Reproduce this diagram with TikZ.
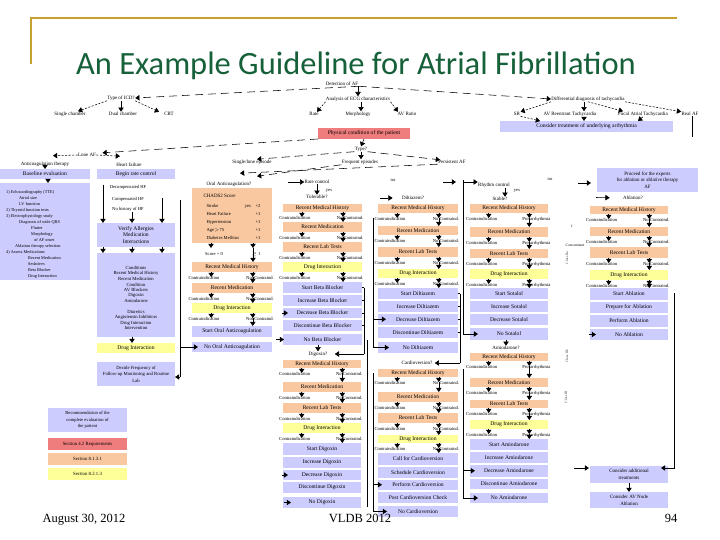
\documentclass[tikz,border=0pt]{standalone}
\usepackage{fontspec}
\setmainfont{Liberation Serif}
\newfontfamily\titlefont{Carlito}
\usetikzlibrary{arrows.meta,calc}
\definecolor{bl}{RGB}{204,204,255}
\definecolor{og}{RGB}{250,200,160}
\definecolor{yl}{RGB}{255,255,153}
\definecolor{rd}{RGB}{240,125,125}
\definecolor{tg}{RGB}{22,96,58}
\definecolor{gold}{RGB}{200,160,50}
\newcommand{\fsz}[1]{\fontsize{#1}{#1}\selectfont}
\tikzset{
  bx/.style={inner sep=0pt, outer sep=0pt, align=center, font=\fsz{5.6}},
  lab/.style={inner sep=0.3pt, font=\fsz{4.6}},
  tx/.style={inner sep=0.3pt, font=\fsz{5}},
  arr/.style={-{Triangle[length=4.2pt,width=5.4pt]}, line width=0.55pt},
  ldash/.style={dash pattern=on 8pt off 5pt, line width=0.8pt},
  sdash/.style={dash pattern=on 2pt off 1.5pt, line width=0.55pt},
  vline/.style={line width=0.8pt},
  rot/.style={inner sep=0.3pt, font=\fsz{3.6}, text=black!75, rotate=90}
}
\newcommand{\mybox}[7]{\node[bx,fill=#2,minimum width={#4pt-#3pt},minimum height={#6pt-#5pt}] (#1) at ({(#3+#4)/2},{(#5+#6)/2}) {#7};}
\newcommand{\stg}[8][No Contraind.]{%
  \mybox{#2}{#3}{#4}{#5}{#6}{#7}{#8}
  \coordinate (#2a) at ({#4+0.24*(#5-#4)},{#7+5});
  \coordinate (#2b) at ({#4+0.76*(#5-#4)},{#7+5});
  \node[lab] (#2L) at ({#4+0.15*(#5-#4)},{#7+6}) {Contraindication};
  \node[lab] (#2R) at ({#4+0.85*(#5-#4)},{#7+6}) {#1};
  \draw[arr] (#2.south -| #2a) -- (#2a);
  \draw[arr] (#2.south -| #2b) -- (#2b);
}
\newcommand{\lnk}[2]{\draw[arr] (#1b) -- (#2.north -| #1b);}
\begin{document}
\begin{tikzpicture}[x=1pt,y=-1pt]
\useasboundingbox (0,0) rectangle (720,540);
\fill[white] (0,0) rectangle (720,540);
% frame and title
\draw[gold,line width=2.2pt] (30,18) -- (677,18);
\draw[gold,line width=2.2pt] (31,17) -- (31,64);
\node[anchor=base,font=\titlefont\fontsize{32.5}{36}\selectfont,text=tg,inner sep=0pt] (title) at (356,75) {An Example Guideline for Atrial Fibrillation};

% ---------- top of tree ----------
\node[tx] (D0) at (342,84) {Detection of AF};
\node[tx] (T0) at (121,98) {Type of ICD?};
\node[tx] (Tc1) at (70,114) {Single chamber};
\node[tx] (Tc2) at (123,114) {Dual chamber};
\node[tx] (Tc3) at (169,114) {CRT};
\node[tx] (T1) at (358,99) {Analysis of ECG characteristics};
\node[tx] (T1c1) at (314,114) {Rate};
\node[tx] (T1c2) at (358,114) {Morphology};
\node[tx] (T1c3) at (407,114) {AV Ratio};
\node[tx] (R0) at (588,99) {Differential diagnosis of tachycardia};
\node[tx] (Rc1) at (517,114) {SR};
\node[tx] (Rc2) at (570,114) {AV Reentrant Tachycardia};
\node[tx] (Rc3) at (643,114) {Focal Atrial Tachycardia};
\node[tx] (Rc4) at (690,114) {Real AF};
\mybox{RB}{bl}{500}{673}{121}{132}{Consider treatment of underlying arrhythmia}
\mybox{P0}{rd}{318}{410}{128}{139}{Physical condition of the patient}
\node[tx] (Ty) at (361,149) {Type?};
\node[tx] (S1) at (252,162) {Single/lone episode};
\node[tx] (S2) at (360,162) {Frequent episodes};
\node[tx] (S3) at (452,162) {Persistent AF};
\node[tx] (Lo) at (87,155) {Lone AF};
\node[tx] (Lc1) at (45,164.5) {Anticoagulation therapy};
\node[tx] (Lc2) at (129,164.5) {Heart failure};

\draw[ldash,arr] (D0.south east) -- (T0.east);
\draw[ldash,arr] (D0.south east) -- (R0.west);
\draw[arr] (D0.south -| T1.north) -- (T1.north);
\draw[sdash,arr] (T0.south west) -- ([xshift=8pt]Tc1.north);
\draw[arr] (T0.south) -- (T0.south |- Tc2.north);
\draw[sdash,arr] (T0.south east) -- ([xshift=-10pt]Tc3.north);
\draw[sdash,arr] (T1.south west) -- ([xshift=3pt]T1c1.north);
\draw[arr] ([xshift=3pt]T1.south) -- ([xshift=3pt]T1.south |- T1c2.north);
\draw[sdash,arr] (T1.south east) -- ([xshift=-9pt]T1c3.north);
\draw[sdash,arr] (R0.south west) -- (Rc1.north east);
\draw[arr] ([xshift=-4pt]R0.south) -- ([xshift=-4pt]R0.south |- Rc2.north);
\draw[sdash,arr] (R0.south) -- ([xshift=-20pt]Rc3.north);
\draw[sdash,arr] (R0.south east) -- (Rc4.north west);
\draw[arr] ([xshift=14pt]Rc2.south) -- ([xshift=14pt]Rc2.south |- RB.north);
\draw[sdash,arr] (Rc1.south east) -- ([xshift=40pt]RB.north west);
\draw[arr] (Rc3.south) -- ([xshift=-35pt]RB.north east);
\coordinate (rc4e) at (692,137);
\draw[vline] ([xshift=2pt]Rc4.south) -- (rc4e);

\draw[ldash,arr] (P0.south west) -- ([xshift=6pt]Lo.north east);
\draw[arr] (P0.south) -- (Ty.north);
\draw[ldash,arr] (Ty.south west) -- ([xshift=5pt]S1.north);
\draw[arr] (Ty.south) -- (Ty.south |- S2.north);
\draw[ldash,arr] (Ty.south east) -- ([xshift=-12pt]S3.north);
\draw[sdash,arr] (Lo.west) -- ([xshift=8pt,yshift=6pt]Lc1.north);
\draw[sdash,arr] (Lo.east) -- ([xshift=-9pt,yshift=6pt]Lc2.north);

\mybox{A0}{bl}{0}{90}{169}{179}{Baseline evaluation}
\mybox{B0}{bl}{97}{175}{169}{179}{Begin rate control}
\draw[arr] (Lc1.south) -- (A0.north);

% ---------- column A ----------
\mybox{A1}{bl}{0}{90}{183}{280}{}
\draw[arr] ([xshift=3pt]A0.south) -- ([xshift=3pt]A1.north);
\node[anchor=north west,inner sep=0pt,align=left,font=\fontsize{4.3}{6.05}\selectfont] (A1t) at (6,190) {%
1) Echocardiography (TTE)\\
\hspace*{13pt}Atrial size\\
\hspace*{13pt}LV function\\
2) Thyroid function tests\\
3) Electrophysiology study\\
\hspace*{13pt}Diagnosis of wide QRS\\
\hspace*{25pt}Flutter\\
\hspace*{25pt}Morphology\\
\hspace*{28pt}of AF onset\\
\hspace*{9pt}Ablation therapy selection\\
4) Assess Medications\\
\hspace*{22pt}Recent Medication\\
\hspace*{22pt}Sedatives\\
\hspace*{22pt}Beta Blocker\\
\hspace*{22pt}Drug Interaction};

% ---------- column B ----------
\node[lab] (Bh1) at (128,187) {Decompensated HF};
\node[lab] (Bh2) at (128,199) {Compensated HF};
\node[lab] (Bh3) at (128,209) {No history of HF};
\coordinate (bq1) at (103,185);
\coordinate (bq2) at (162,198);
\coordinate (bq3) at (132,212);
\mybox{B1}{bl}{97}{175}{223}{247}{Verify Allergies\\[0.6pt]Medication\\[0.6pt]Interactions}
\draw[vline,arr] (bq1) -- (B1.north -| bq1);
\draw[vline,arr] (bq2) -- (B1.north -| bq2);
\draw[arr] (bq3) -- (B1.north -| bq3);
\mybox{B2}{bl}{97}{175}{253}{337}{}
\draw[arr] (B1.south -| bq1) -- (B2.north -| bq1);
\draw[arr] (B1.south -| bq2) -- (B2.north -| bq2);
\draw[arr] (B1.south -| bq3) -- (B2.north -| bq3);
\node[align=center,inner sep=0pt,font=\fontsize{4.7}{5.6}\selectfont] (B2t1) at (136,276) {Conditions\\Recent Medical History\\Recent Medication\\Condition};
\node[align=center,inner sep=0pt,font=\fontsize{4.7}{5.6}\selectfont] (B2t2) at (136,295) {AV Blockers\\Digoxin\\Amiodarone};
\node[align=center,inner sep=0pt,font=\fontsize{4.7}{5.6}\selectfont] (B2t3) at (136,320) {Diuretics\\Angiotensin Inhibitors\\Drug Interaction\\Intervention};
\mybox{B3}{yl}{97}{175}{343}{353}{Drug Interaction}
\draw[arr] (B2.south -| bq3) -- (B3.north -| bq3);
\node[bx,fill=bl,minimum width=78pt,minimum height=24pt,font=\fontsize{4.7}{6.6}\selectfont] (B4) at (136,374) {Decide Frequency of\\Follow-up Monitoring and Routine\\Lab};
\coordinate (lb0) at (180,200);
\coordinate (lb1) at (180,377);
\draw[vline] (lb0) -- (lb1);
\draw[arr] (lb1) -- (lb1 -| B4.east);

% legend
\node[bx,fill=bl,minimum width=79pt,minimum height=24pt,font=\fontsize{4.6}{6.4}\selectfont] (L1) at (87.5,420) {Recommendation of the\\complete evaluation of\\the patient};
\mybox{L2}{rd}{48}{127}{438}{450}{\fsz{4.8}Section 4.2 Requirements}
\mybox{L3}{og}{48}{127}{453}{465}{\fsz{4.8}Section 8.1.3.1}
\mybox{L4}{yl}{48}{127}{468}{480}{\fsz{4.8}Section 8.2.1.3}

% ---------- column C ----------
\node[tx] (OA) at (229,184) {Oral Anticoagulation?};
\draw[ldash,arr] (S2.south west) -- ([xshift=28pt,yshift=5pt]OA.north);
\draw[ldash,arr] (S3.south west) -- ([xshift=11pt,yshift=8pt]OA.north);
\mybox{C0}{og}{192}{272}{188}{243}{}
\node[lab,anchor=west,font=\fsz{5}] (c0t) at (203,196) {CHADS2 Score};
\node[lab,anchor=west] (c0a) at (206,206) {Stroke};
\node[lab,anchor=west] (c0b) at (206,214) {Heart Failure};
\node[lab,anchor=west] (c0c) at (206,222) {Hypertension};
\node[lab,anchor=west] (c0d) at (206,230) {Age$>$75};
\node[lab,anchor=west] (c0e) at (206,238) {Diabetes Mellitus};
\node[lab,anchor=east] (c0av) at (261,206) {yes\quad +2};
\node[lab,anchor=east] (c0bv) at (261,214) {+1};
\node[lab,anchor=east] (c0cv) at (261,222) {+1};
\node[lab,anchor=east] (c0dv) at (261,230) {+1};
\node[lab,anchor=east] (c0ev) at (261,238) {+1};
\coordinate (C0a) at (211,248);
\coordinate (C0b) at (253,248);
\node[lab] (C0L) at (214,254) {Score = 0};
\node[lab] (C0R) at (256,254) {$\geq$ 1};
\draw[arr] (C0.south -| C0a) -- (C0a);
\draw[arr] (C0.south -| C0b) -- (C0b);
\stg[Not Contraind.]{C1}{og}{192}{272}{262}{272}{Recent Medical History}
\draw[arr] (C0b) -- (C1.north -| C0b);
\stg[Not Contraind.]{C2}{og}{192}{272}{283}{293}{Recent Medication}
\stg[Not Contraind.]{C3}{yl}{192}{272}{303}{313}{Drug Interaction}
\mybox{C4}{bl}{192}{272}{326}{337}{Start Oral Anticoagulation}
\mybox{C5}{bl}{192}{272}{342}{352}{No Oral Anticoagulation}
\lnk{C1}{C2}\lnk{C2}{C3}\lnk{C3}{C4}
\draw[arr] (lb0 |- C5) -- ([xshift=6pt]C5.west);

% ---------- column D ----------
\node[tx] (RC) at (317,182) {Rate control};
\coordinate (rcs) at (288,182);
\draw[arr] (rcs) -- (RC.west);
\node[tx] (DQ) at (317,197) {Tolerable?};
\draw[arr] (RC.south) -- (DQ.north);
\node[lab] (ys1) at (329,190.5) {yes};
\stg{D1}{og}{283}{362}{204}{212}{Recent Medical History}
\stg{D2}{og}{283}{362}{222}{232}{Recent Medication}
\stg{D3}{og}{283}{362}{242}{252}{Recent Lab Tests}
\stg{D4}{yl}{283}{362}{262}{272}{Drug Interaction}
\mybox{D5}{bl}{283}{362}{282}{293}{Start Beta Blocker}
\mybox{D6}{bl}{283}{362}{295}{306}{Increase Beta Blocker}
\mybox{D7}{bl}{283}{362}{308}{318}{Decrease Beta Blocker}
\mybox{D8}{bl}{283}{362}{320}{331}{Discontinue Beta Blocker}
\mybox{D9}{bl}{283}{362}{334}{345}{No Beta Blocker}
\lnk{D1}{D2}\lnk{D2}{D3}\lnk{D3}{D4}\lnk{D4}{D5}
\draw[arr] ([xshift=-1pt]D7.west) -- ([xshift=5pt]D7.west);
\draw[arr] ([xshift=-7pt]D9.west) -- ([xshift=1pt]D9.west);
\node[tx] (DgQ) at (318,354) {Digoxin?};
\draw[arr] (D9.south -| DgQ) -- (DgQ.north);
\coordinate (dbr) at (364,354);
\draw[vline] (D5.east -| dbr) -- (dbr);
\foreach \n in {D5,D6,D7,D8} \draw[vline] (\n.east) -- (\n.east -| dbr);
\draw[arr,shorten >=7pt] (dbr) -- (DgQ.east);
\stg{DL1}{og}{283}{361}{360}{368}{Recent Medical History}
\stg{DL2}{og}{283}{361}{382}{392}{Recent Medication}
\stg{DL3}{og}{283}{361}{403}{413}{Recent Lab Tests}
\stg{DL4}{yl}{283}{361}{423}{433}{Drug Interaction}
\mybox{DL5}{bl}{283}{361}{443}{455}{Start Digoxin}
\mybox{DL6}{bl}{283}{361}{457}{468}{Increase Digoxin}
\mybox{DL7}{bl}{283}{361}{470}{480}{Decrease Digoxin}
\mybox{DL8}{bl}{283}{361}{482}{493}{Discontinue Digoxin}
\mybox{DL9}{bl}{283}{361}{497}{508}{No Digoxin}
\lnk{DL1}{DL2}\lnk{DL2}{DL3}\lnk{DL3}{DL4}\lnk{DL4}{DL5}
\draw[arr] ([xshift=-1pt]DL7.west) -- ([xshift=5pt]DL7.west);
\draw[arr] ([xshift=1pt]DL9.west) -- ([xshift=8pt]DL9.west);
\coordinate (dl0) at (367,340);
\coordinate (dl1) at (367,507);
\draw[vline] (dl0) -- (dl1);

% ---------- column E ----------
\node[lab] (no1) at (393,180) {no};
\node[tx] (EQ) at (413,198) {Diltiazem?};
\coordinate (eqs) at (380,198);
\draw[arr,shorten >=9pt] (eqs) -- (EQ.west);
\stg{E1}{og}{378}{458}{204}{213}{Recent Medical History}
\stg{E2}{og}{378}{458}{226}{235}{Recent Medication}
\stg{E3}{og}{378}{458}{247}{257}{Recent Lab Tests}
\stg{E4}{yl}{378}{458}{269}{278}{Drug Interaction}
\mybox{E5}{bl}{378}{458}{288}{299}{Start Diltiazem}
\mybox{E6}{bl}{378}{458}{301}{312}{Increase Diltiazem}
\mybox{E7}{bl}{378}{458}{313.5}{325}{Decrease Diltiazem}
\mybox{E8}{bl}{378}{458}{327}{338}{Discontinue Diltiazem}
\mybox{E9}{bl}{378}{458}{342}{353}{No Diltiazem}
\lnk{E1}{E2}\lnk{E2}{E3}\lnk{E3}{E4}\lnk{E4}{E5}
\coordinate (el0) at (373,218);
\draw[vline,arr] (el0) |- ([xshift=11pt]E9.west);
\draw[arr] (E7.west -| el0) -- ([xshift=8pt]E7.west);
\node[tx] (ELQ) at (417,363) {Cardioversion?};
\coordinate (ebr) at (460,363);
\draw[vline] (E5.east -| ebr) -- (ebr);
\foreach \n in {E5,E6,E7,E8} \draw[vline] (\n.east) -- (\n.east -| ebr);
\draw[arr,shorten >=2pt] (ebr) -- (ELQ.east);
\stg{EL1}{og}{378}{458}{369}{377}{Recent Medical History}
\stg{EL2}{og}{378}{458}{392}{402}{Recent Medication}
\stg{EL3}{og}{378}{458}{413}{423}{Recent Lab Tests}
\stg{EL4}{yl}{378}{458}{435}{443}{Drug Interaction}
\mybox{EL5}{bl}{378}{458}{453}{465}{Call for Cardioversion}
\mybox{EL6}{bl}{378}{458}{467}{478}{Schedule Cardioversion}
\mybox{EL7}{bl}{378}{458}{479.5}{490}{Perform Cardioversion}
\mybox{EL8}{bl}{378}{458}{492}{503}{Post Cardioversion Check}
\mybox{EL9}{bl}{378}{458}{506}{517}{No Cardioversion}
\lnk{EL1}{EL2}\lnk{EL2}{EL3}\lnk{EL3}{EL4}\lnk{EL4}{EL5}
\coordinate (el2) at (373,373);
\draw[vline,arr] (el2) |- ([xshift=9pt]EL9.west);
\draw[arr] (EL7.west -| el2) -- ([xshift=4pt]EL7.west);

% ---------- column F ----------
\node[lab] (no2) at (550,179) {no};
\node[tx] (RhC) at (494,185) {Rhythm control};
\coordinate (rh0) at (443,182);
\coordinate (rh1) at (456,182);
\draw[arr] (rh0) -- (rh1);
\draw[arr] (rh1 -| 463,0) -- ([yshift=3pt]RhC.west);
\node[tx] (FQ) at (500,199) {Stable?};
\draw[arr] ([xshift=11pt]RhC.south) -- ([xshift=5pt]FQ.north);
\node[lab] (ys2) at (517,191) {yes};
\stg[Pro-arrhythmia]{F1}{og}{470}{548}{204}{213}{Recent Medical History}
\stg[Pro-arrhythmia]{F2}{og}{470}{548}{227}{237}{Recent Medication}
\stg[Pro-arrhythmia]{F3}{og}{470}{548}{249}{258}{Recent Lab Tests}
\stg[Pro-arrhythmia]{F4}{yl}{470}{548}{269}{279}{Drug Interaction}
\mybox{F5}{bl}{470}{548}{288}{299}{Start Sotalol}
\mybox{F6}{bl}{470}{548}{301}{312}{Increase Sotalol}
\mybox{F7}{bl}{470}{548}{313.5}{325}{Decrease Sotalol}
\mybox{F8}{bl}{470}{548}{328}{340}{No Sotalol}
\lnk{F1}{F2}\lnk{F2}{F3}\lnk{F3}{F4}\lnk{F4}{F5}
\coordinate (fl0) at (463,180);
\draw[vline,arr] (fl0) |- ([xshift=8pt]F8.west);
\node[tx] (FLQ) at (506,348) {Amiodarone?};
\draw[arr] (F8.south -| FLQ) -- (FLQ.north);
\stg[Pro-arrhythmia]{FL1}{og}{470}{548}{353}{361}{Recent Medical History}
\stg[Pro-arrhythmia]{FL2}{og}{470}{548}{378}{387}{Recent Medication}
\stg[Pro-arrhythmia]{FL3}{og}{470}{548}{400}{408}{Recent Lab Tests}
\stg[Pro-arrhythmia]{FL4}{yl}{470}{548}{420}{429}{Drug Interaction}
\mybox{FL5}{bl}{470}{548}{439}{450}{Start Amiodarone}
\mybox{FL6}{bl}{470}{548}{452}{463}{Increase Amiodarone}
\mybox{FL7}{bl}{470}{548}{465}{476.5}{Decrease Amiodarone}
\mybox{FL8}{bl}{470}{548}{478.5}{489}{Discontinue Amiodarone}
\mybox{FL9}{bl}{470}{548}{493}{503}{No Amiodarone}
\lnk{FL1}{FL2}\lnk{FL2}{FL3}\lnk{FL3}{FL4}\lnk{FL4}{FL5}
\coordinate (fl2) at (463,369);
\draw[vline,arr] (fl2) |- ([xshift=8pt]FL9.west);
\draw[arr] (FL7.west -| fl2) -- ([xshift=5pt]FL7.west);

% ---------- column G ----------
\node[bx,fill=bl,minimum width=101pt,minimum height=24pt,font=\fontsize{5}{6.6}\selectfont] (G0) at (647.5,180) {Proceed for the experts\\for ablation or ablative therapy\\AF};
\coordinate (g0s) at (578,183);
\draw[arr,shorten >=6pt] (g0s) -- (G0.west |- g0s);
\node[tx] (GQ) at (633,198) {Ablation?};
\coordinate (gqs) at (596,197.5);
\draw[arr,shorten >=13pt] (gqs) -- (GQ.west);
\stg{G1}{og}{590}{668}{206}{214}{Recent Medical History}
\stg{G2}{og}{590}{668}{227}{236}{Recent Medication}
\stg{G3}{og}{590}{668}{247}{258}{Recent Lab Tests}
\stg{G4}{yl}{590}{668}{270}{280}{Drug Interaction}
\mybox{G5}{bl}{590}{668}{288}{300}{Start Ablation}
\mybox{G6}{bl}{590}{668}{302}{313}{Prepare for Ablation}
\mybox{G7}{bl}{590}{668}{315}{327}{Perform Ablation}
\mybox{G8}{bl}{590}{668}{329}{340}{No Ablation}
\lnk{G1}{G2}\lnk{G2}{G3}\lnk{G3}{G4}\lnk{G4}{G5}
\draw[arr] ([xshift=-1pt]G8.west) -- ([xshift=6pt]G8.west);
\node[bx,fill=bl,minimum width=78pt,minimum height=17pt,font=\fontsize{5}{6.6}\selectfont] (G9) at (629,474.5) {Consider additional\\treatments};
\node[bx,fill=bl,minimum width=78pt,minimum height=16pt,font=\fontsize{5}{6.6}\selectfont] (G10) at (629,500) {Consider AV Node\\Ablation};
\draw[arr] (G9.south) -- (G10.north);
\coordinate (gbr) at (674,293);
\coordinate (gbe) at (661,468);
\draw[vline,arr] (gbr) |- (gbe);
\coordinate (g9s) at (574,468);
\draw[arr] (g9s) -- ([xshift=-1pt]G9.west |- g9s);
% small side notes
\node[rot] (v1) at (567,258) {Class IIa};
\node[rot] (v2) at (567,356) {Class IIb};
\node[rot] (v3) at (566,397) {Class III};
\node[lab,font=\fsz{3.6}] (v4) at (575,245) {Concomitant};
\node[lab,font=\fsz{3.6}] (v5) at (572,226) {I};

% ---------- footer ----------
\node[anchor=base,font=\fsz{12.5},inner sep=0pt] (date) at (84,522) {August 30, 2012};
\node[anchor=base,font=\fsz{12.5},inner sep=0pt] (conf) at (360,522) {VLDB 2012};
\node[anchor=base,font=\fsz{12.5},inner sep=0pt] (page) at (671,522) {94};
\end{tikzpicture}
\end{document}
